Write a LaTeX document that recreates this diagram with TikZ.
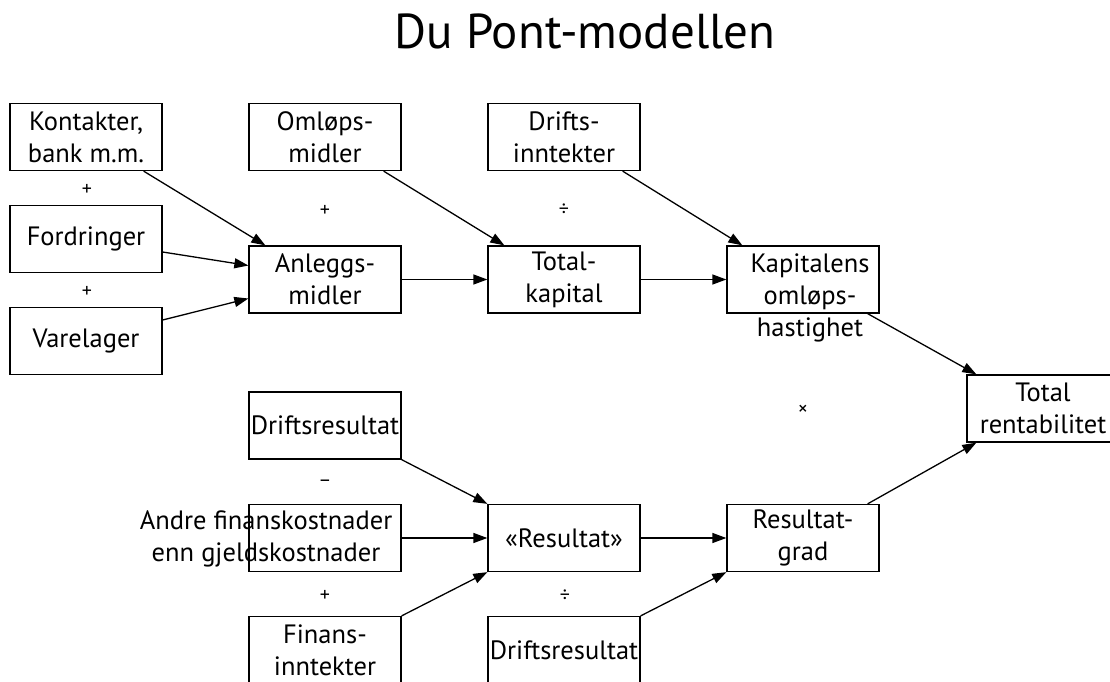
\documentclass[tikz,border=0pt]{standalone}
\usepackage{fontspec}
\setmainfont{PT Sans}
\usetikzlibrary{arrows.meta}
\newcommand{\boxfont}{\fontsize{26.5}{32}\selectfont}
\newcommand{\opfont}{\fontsize{20}{24}\selectfont}
\tikzset{
  dpbox/.style={draw,line width=1.3pt,minimum width=152pt,minimum height=67pt,inner sep=0pt,align=center,font=\boxfont},
  optxt/.style={font=\opfont,inner sep=0pt},
  freetxt/.style={align=center,font=\boxfont,inner sep=0pt},
}

\begin{document}
\begin{tikzpicture}[x=1pt,y=-1pt,
    arr/.style={-{Triangle[length=14pt,width=10pt]},line width=1.3pt},
  ]
  \useasboundingbox (0,0) rectangle (1110,682);
  \clip (0,0) rectangle (1110,682);
  \node[inner sep=0pt,font=\fontsize{49}{58}\selectfont] (title) at (585,31) {Du Pont-modellen};

  % Capital side
  \node[dpbox] (kontakter) at (86,137) {Kontakter,\\bank m.m.};
  \node[dpbox] (fordringer) at (86,239) {Fordringer};
  \node[dpbox] (varelager) at (86,341) {Varelager};
  \node[optxt] (plus_a) at (87,190) {+};
  \node[optxt] (plus_b) at (87,292) {+};

  \node[dpbox] (oml_midler) at (325,137) {Omløps-\\midler};
  \node[dpbox] (anl_midler) at (325,279.5) {Anleggs-\\midler};
  \node[optxt] (plus_c) at (325,211) {+};

  \node[dpbox] (drifts_innt) at (564,137) {Drifts-\\inntekter};
  \node[dpbox] (tot_kap) at (564,279.5) {Total-\\kapital};
  \node[optxt] (div_a) at (564,210) {÷};

  \node[dpbox] (kap_oml) at (803,279.5) {};
  \node[freetxt] (kap_oml_txt) at (810,298) {Kapitalens\\omløps-\\hastighet};

  \draw[arr] ([xshift=-19pt]kontakter.south east) -- ([xshift=17pt]anl_midler.north west);
  \draw[arr] ([yshift=-13pt]fordringer.east) -- ([yshift=14pt]anl_midler.west);
  \draw[arr] ([yshift=21pt]varelager.east) -- ([yshift=-19pt]anl_midler.west);
  \draw[arr] ([xshift=-18pt]oml_midler.south east) -- ([xshift=17pt]tot_kap.north west);
  \draw[arr] (anl_midler) -- (tot_kap);
  \draw[arr] ([xshift=-18pt]drifts_innt.south east) -- ([xshift=16pt]kap_oml.north west);
  \draw[arr] (tot_kap) -- (kap_oml);

  % Result side
  \node[dpbox] (drifts_res_a) at (325,425.5) {Driftsresultat};
  \node[dpbox] (andre_fin) at (325,538) {};
  \node[freetxt] (andre_fin_txt) at (266,538.5) {Andre finanskostnader\\enn gjeldskostnader};
  \node[dpbox] (fin_innt) at (325,650) {Finans-\\inntekter};
  \node[optxt] (minus_a) at (325,483) {–};
  \node[optxt] (plus_d) at (325,596) {+};

  \node[dpbox] (resultat) at (564,538) {«Resultat»};
  \node[dpbox] (drifts_res_b) at (564,650) {Driftsresultat};
  \node[optxt] (div_b) at (565,596) {÷};

  \node[dpbox] (res_grad) at (803,538) {Resultat-\\grad};

  \draw[arr] (drifts_res_a.south east) -- (resultat.north west);
  \draw[arr] (andre_fin) -- (resultat);
  \draw[arr] (fin_innt.north east) -- (resultat.south west);
  \draw[arr] (resultat) -- (res_grad);
  \draw[arr] (drifts_res_b.north east) -- (res_grad.south west);

  % Total
  \node[dpbox] (tot_rent) at (1043,408.5) {Total\\rentabilitet};
  \node[optxt] (times_a) at (803,410) {×};
  \draw[arr] ([xshift=-12pt]kap_oml.south east) -- ([xshift=10pt]tot_rent.north west);
  \draw[arr] ([xshift=-12pt]res_grad.north east) -- ([xshift=10pt]tot_rent.south west);
\end{tikzpicture}
\end{document}
